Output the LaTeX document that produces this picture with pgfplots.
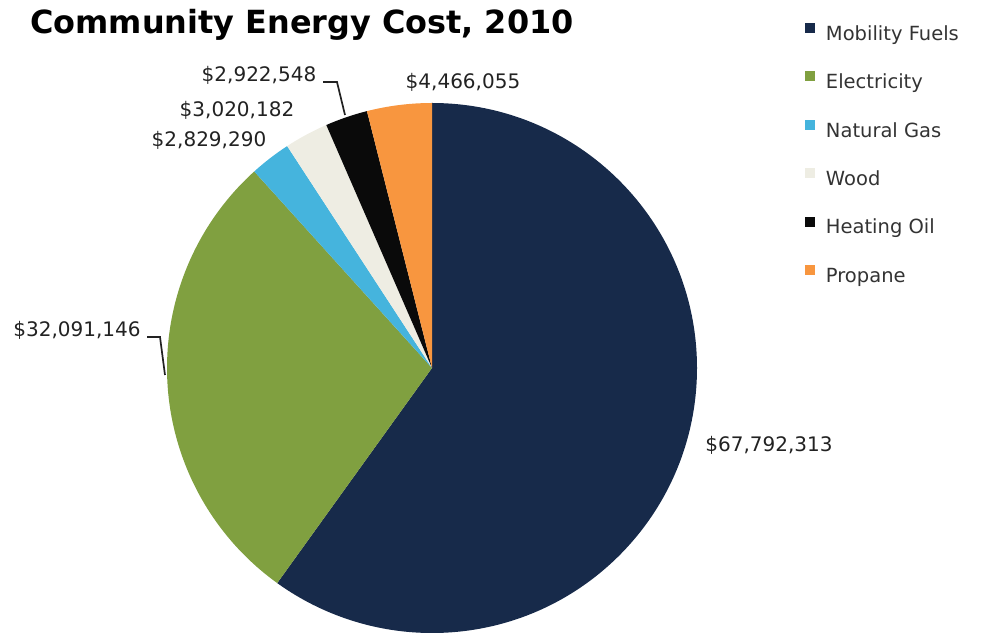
\documentclass[border=0pt]{standalone}
\usepackage{fontspec}
\setmainfont{DejaVu Sans}
\usepackage{pgfplots}
\usepackage{pgfplotstable}
\pgfplotsset{compat=1.18}

\definecolor{cMob}{HTML}{172A4A}
\definecolor{cElec}{HTML}{80A040}
\definecolor{cGas}{HTML}{45B4DD}
\definecolor{cWood}{HTML}{EEEDE3}
\definecolor{cOil}{HTML}{0A0A0A}
\definecolor{cProp}{HTML}{F8963F}
\definecolor{legtext}{HTML}{333333}
\definecolor{lbltext}{HTML}{222222}

\pgfplotstableread[col sep=comma]{
name,value,color
Mobility Fuels,67792313,cMob
Electricity,32091146,cElec
Natural Gas,2829290,cGas
Wood,3020182,cWood
Heating Oil,2922548,cOil
Propane,4466055,cProp
}\costs

\begin{document}
\begin{tikzpicture}
\gdef\total{0}
\pgfplotsforeachungrouped \i in {0,...,5}{%
  \pgfplotstablegetelem{\i}{value}\of\costs
  \xdef\total{\fpeval{\total+\pgfplotsretval}}%
}
\begin{axis}[
  width=986pt,height=635pt,scale only axis,
  xmin=0,xmax=986,ymin=0,ymax=635,
  hide axis,clip=false,
  legend style={at={(0.8164,0.9640)},anchor=north west,draw=none,fill=none,
    inner sep=0pt,outer sep=0pt,font=\fontsize{19.5}{19.5}\selectfont,text=legtext,
    row sep=26.7pt,
    nodes={inner sep=0pt,text height=15pt,text depth=4.5pt}},
  legend cell align=left,
  legend image code/.code={\fill[#1] (0pt,2pt) rectangle (10pt,12pt); \path (21pt,0pt);},
]
\path (rel axis cs:0,0) rectangle (rel axis cs:1,1);
\gdef\cum{0}
\pgfplotsforeachungrouped \i in {0,...,5}{%
  \pgfplotstablegetelem{\i}{value}\of\costs \let\v\pgfplotsretval
  \pgfplotstablegetelem{\i}{color}\of\costs \let\c\pgfplotsretval
  \edef\sa{\fpeval{90-360*\cum/\total}}%
  \xdef\cum{\fpeval{\cum+\v}}%
  \edef\ea{\fpeval{90-360*\cum/\total}}%
  \edef\doslice{\noexpand\fill[\c] (axis cs:432,267) -- ++(\sa:265pt) arc[start angle=\sa, end angle=\ea, radius=265pt] -- cycle;}%
  \doslice
}
\addlegendimage{fill=cMob,draw=none}\addlegendentry{Mobility Fuels}
\addlegendimage{fill=cElec,draw=none}\addlegendentry{Electricity}
\addlegendimage{fill=cGas,draw=none}\addlegendentry{Natural Gas}
\addlegendimage{fill=cWood,draw=none}\addlegendentry{Wood}
\addlegendimage{fill=cOil,draw=none}\addlegendentry{Heating Oil}
\addlegendimage{fill=cProp,draw=none}\addlegendentry{Propane}

\draw[lbltext,line width=1.7pt] (axis cs:147,298) -- (axis cs:160,298) -- (axis cs:165,260);
\draw[lbltext,line width=1.7pt] (axis cs:323,553) -- (axis cs:337,553) -- (axis cs:345,520);

\begin{scope}[every node/.style={font=\fontsize{20}{20}\selectfont,text=lbltext,inner sep=0pt}]
\node at (axis cs:769,190) {\$67,792,313};
\node at (axis cs:77,305) {\$32,091,146};
\node at (axis cs:209,495) {\$2,829,290};
\node at (axis cs:237,525) {\$3,020,182};
\node at (axis cs:259,560) {\$2,922,548};
\node at (axis cs:463,553) {\$4,466,055};
\end{scope}
\node[anchor=base west,inner sep=0pt,font=\bfseries\fontsize{31.9}{31.9}\selectfont] at (axis cs:30,601) {Community Energy Cost, 2010};
\end{axis}
\end{tikzpicture}
\end{document}
